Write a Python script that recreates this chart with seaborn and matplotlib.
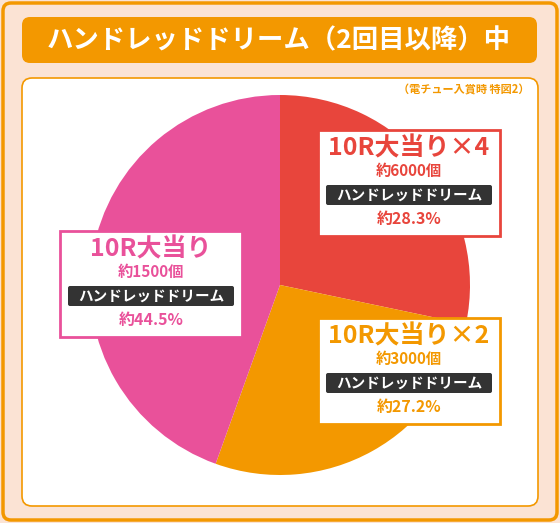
import matplotlib
matplotlib.use('Agg')
import matplotlib.pyplot as plt
import seaborn as sns
from matplotlib.patches import FancyBboxPatch

sns.set_theme(style='white')
plt.rcParams['font.family'] = ['Noto Sans CJK JP', 'DejaVu Sans']

# data
labels = ['10R大当り×4', '10R大当り×2', '10R大当り']
counts = ['約6000個', '約3000個', '約1500個']
shares = [28.3, 27.2, 44.5]
colors = ['#e8453c', '#f39800', '#e9519a']
title = 'ハンドレッドドリーム（2回目以降）中'
note = '（電チュー入賞時 特図2）'
mode = 'ハンドレッドドリーム'

fig = plt.figure(figsize=(5.6, 5.23), dpi=100)
fig.patch.set_facecolor('#fbe3d4')

bg = fig.add_axes([0, 0, 1, 1])
bg.set_xlim(0, 560)
bg.set_ylim(523, 0)
bg.axis('off')
bg.add_patch(FancyBboxPatch((3, 3), 554, 517, boxstyle='round,pad=0,rounding_size=8',
                            fc='#fbe3d4', ec='#f39800', lw=2.5))
bg.add_patch(FancyBboxPatch((22, 17), 515, 46, boxstyle='round,pad=0,rounding_size=8',
                            fc='#f39800', ec='none'))
bg.text(279, 41, title, color='white', fontsize=19, fontweight='bold', ha='center', va='center')
bg.add_patch(FancyBboxPatch((22, 78), 516, 428, boxstyle='round,pad=0,rounding_size=10',
                            fc='white', ec='#f39800', lw=1.2))
bg.text(530, 90, note, color='#f39800', fontsize=8, fontweight='bold', ha='right', va='center')

pie_ax = fig.add_axes([90 / 560, 48 / 523, 380 / 560, 380 / 523])
pie_ax.pie(shares, colors=colors, startangle=90, counterclock=False,
           wedgeprops=dict(linewidth=0))
pie_ax.set_xlim(-1, 1)
pie_ax.set_ylim(-1, 1)
pie_ax.set_aspect('equal')
pie_ax.axis('off')

over = fig.add_axes([0, 0, 1, 1])
over.set_xlim(0, 560)
over.set_ylim(523, 0)
over.axis('off')
over.patch.set_alpha(0)

boxes = [(318, 130), (318, 318), (60, 231)]
for (x, y), lab, cnt, sh, col in zip(boxes, labels, counts, shares, colors):
    over.add_patch(plt.Rectangle((x, y), 182, 106, fc='white', ec=col, lw=2))
    cx = x + 91
    over.text(cx, y + 18, lab, color=col, fontsize=18, fontweight='bold', ha='center', va='center')
    over.text(cx, y + 41, cnt, color=col, fontsize=11, fontweight='bold', ha='center', va='center')
    over.add_patch(FancyBboxPatch((x + 8, y + 55), 166, 20, boxstyle='round,pad=0,rounding_size=2',
                                  fc='#333333', ec='none'))
    over.text(cx, y + 65, mode, color='white', fontsize=10.5, fontweight='bold', ha='center', va='center')
    over.text(cx, y + 89, f'約{sh}%', color=col, fontsize=11.5, fontweight='bold', ha='center', va='center')

fig.savefig('out.png', dpi=100, facecolor=fig.get_facecolor())
